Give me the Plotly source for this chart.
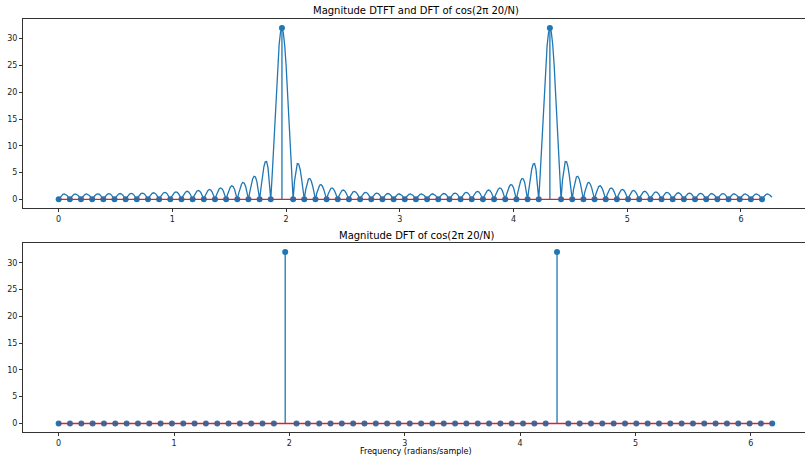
import numpy as np
import plotly.graph_objects as go

# ---- data ----
N = 64  # DFT length (peaks reach N/2 = 32)
# DFT magnitudes |X[k]|, k = 0..63 : zero everywhere except bins 20 and 44
dft_mag = [0, 0, 0, 0, 0, 0, 0, 0, 0, 0,
           0, 0, 0, 0, 0, 0, 0, 0, 0, 0,
           32, 0, 0, 0, 0, 0, 0, 0, 0, 0,
           0, 0, 0, 0, 0, 0, 0, 0, 0, 0,
           0, 0, 0, 0, 32, 0, 0, 0, 0, 0,
           0, 0, 0, 0, 0, 0, 0, 0, 0, 0,
           0, 0, 0, 0]
n_dtft_points = 512  # frequency grid of the DTFT curve over [0, 2pi)

title_top = "Magnitude DTFT and DFT of cos(2π 20/N)"
title_bottom = "Magnitude DFT of cos(2π 20/N)"
xlabel = "Frequency (radians/sample)"
yticks = [0, 5, 10, 15, 20, 25, 30]
xticks = [0, 1, 2, 3, 4, 5, 6]

# ---- derived series ----
dft_mag = np.array(dft_mag, dtype=float)
freq_dft = 2 * np.pi * np.arange(N) / N
# DTFT of the length-N signal whose DFT is given above
x_time = np.fft.ifft(dft_mag)
w = 2 * np.pi * np.arange(n_dtft_points) / n_dtft_points
dtft_mag = np.abs(np.exp(-1j * np.outer(w, np.arange(N))) @ x_time)

C0 = "#1f77b4"
C3 = "#d62728"
FONT = "DejaVu Sans"
W, H = 805, 457
L = 23   # left spine at page x = 23

fig = go.Figure()


def add_stem(xa, ya):
    fig.add_trace(go.Scatter(
        x=freq_dft, y=dft_mag, mode="markers",
        marker=dict(color=C0, size=6, line=dict(width=0)),
        error_y=dict(type="data", symmetric=False, array=np.zeros(N),
                     arrayminus=dft_mag, width=0, thickness=1.3, color=C0),
        xaxis=xa, yaxis=ya, showlegend=False, hoverinfo="skip"))
    fig.add_trace(go.Scatter(
        x=[freq_dft[0], freq_dft[-1]], y=[0, 0], mode="lines",
        line=dict(color=C3, width=1.4),
        xaxis=xa, yaxis=ya, showlegend=False, hoverinfo="skip"))


# top: DTFT curve + DFT stems
fig.add_trace(go.Scatter(x=w, y=dtft_mag, mode="lines",
                         line=dict(color=C0, width=1.3),
                         xaxis="x", yaxis="y", showlegend=False, hoverinfo="skip"))
add_stem("x", "y")
# bottom: DFT stems
add_stem("x2", "y2")

ax_common = dict(showline=True, linecolor="#333", linewidth=1, ticks="outside",
                 ticklen=3, tickwidth=1, tickcolor="#333", showgrid=False,
                 zeroline=False, automargin=False,
                 tickfont=dict(family=FONT, size=8, color="#222"))


def ydom(top_px, bot_px):
    return [(H - bot_px) / H, (H - top_px) / H]


fig.update_layout(
    width=W, height=H,
    margin=dict(l=L, r=0, t=0, b=0, autoexpand=False),
    paper_bgcolor="white", plot_bgcolor="white",
    font=dict(family=FONT, color="black"),
    xaxis=dict(domain=[0, 1], range=[-0.3136, 6.563], anchor="y", mirror=True,
               tickvals=xticks, **ax_common),
    yaxis=dict(domain=ydom(19.4, 207.9), range=[-1.6, 33.6], anchor="x",
               tickvals=yticks, **ax_common),
    xaxis2=dict(domain=[0, 1], range=[-0.309, 6.469], anchor="y2", mirror=True,
                tickvals=xticks, **ax_common),
    yaxis2=dict(domain=ydom(243.4, 432.0), range=[-1.6, 33.6], anchor="x2",
                tickvals=yticks, **ax_common),
)

# annotations placed by page-pixel position
for text, px, py, fs in [(title_top, 416, 11, 10),
                         (title_bottom, 416, 235, 10),
                         (xlabel, 416, 451, 8)]:
    fig.add_annotation(text=text, x=(px - L) / (W - L), y=(H - py) / H,
                       xref="paper", yref="paper", showarrow=False,
                       font=dict(size=fs, family=FONT, color="black"),
                       xanchor="center", yanchor="middle")

fig.write_html("out.html", config={"displayModeBar": False},
               post_script="document.body.style.margin='0';")
